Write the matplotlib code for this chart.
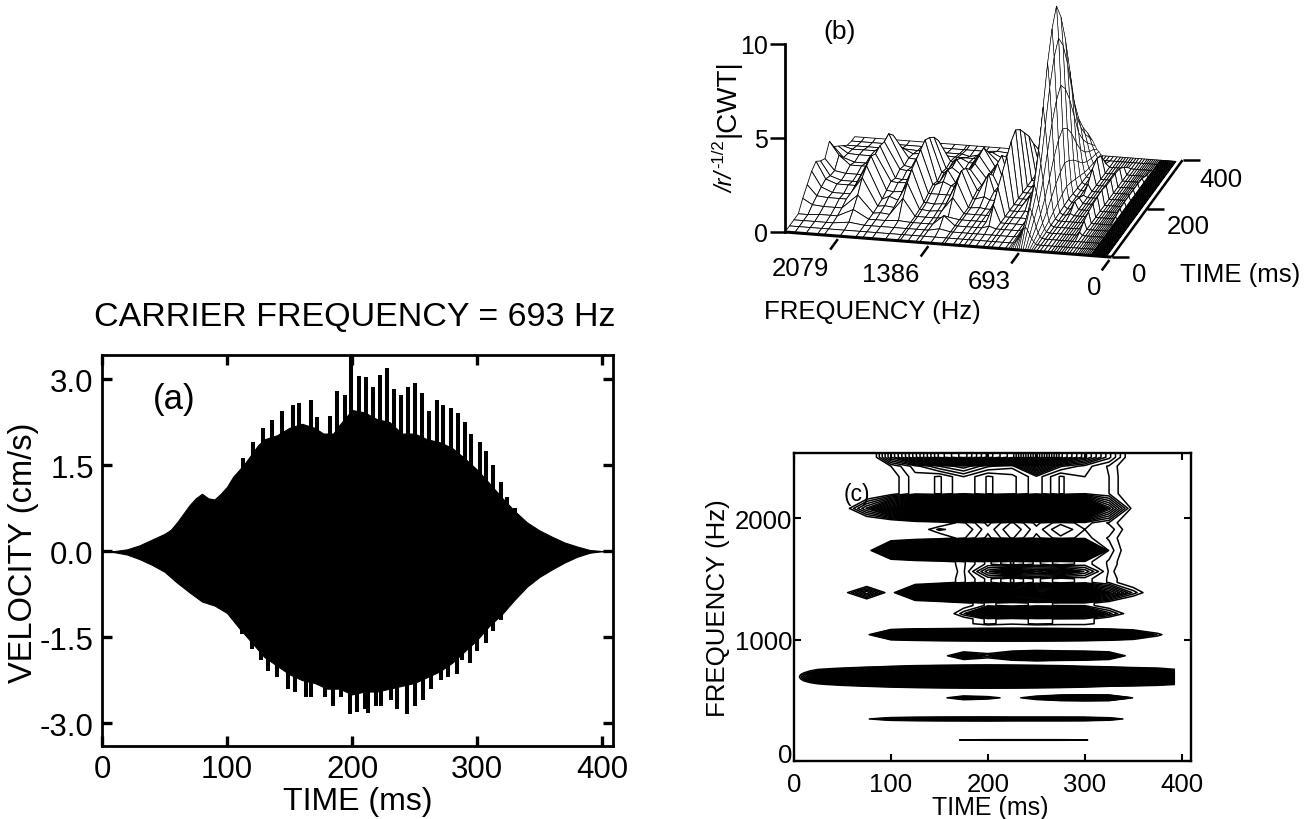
import matplotlib
matplotlib.use("Agg")
import numpy as np
import matplotlib.pyplot as plt
from matplotlib.collections import PolyCollection
from matplotlib.transforms import ScaledTranslation

plt.rcParams['font.family'] = ['Liberation Sans', 'DejaVu Sans']

# ---------- panel (a): velocity envelope
env_t = [0,10,20,30,40,50,55,60,65,70,75,80,85,90,95,100,105,110,115,120,125,130,140,150,160,170,177,185,190,200,210,220,230,240,250,260,270,280,290,300,310,320,330,340,350,360,370,380,390,400,408]
env_up = [0,0,0.03,0.1,0.2,0.3,0.37,0.5,0.65,0.8,0.92,1.0,0.92,0.9,1.0,1.12,1.3,1.42,1.55,1.7,1.85,1.95,2.02,2.15,2.22,2.15,2.05,2.05,2.2,2.46,2.42,2.3,2.25,2.05,2.05,1.95,1.9,1.8,1.62,1.42,1.18,0.93,0.7,0.5,0.36,0.25,0.15,0.08,0.02,0,0]
env_lo_t = [0,10,20,30,40,50,60,70,80,90,100,110,120,130,140,150,160,170,180,190,200,210,220,230,240,250,260,270,280,290,300,310,320,330,340,350,360,370,380,390,400,408]
env_lo = [0,-0.02,-0.06,-0.14,-0.24,-0.36,-0.55,-0.72,-0.88,-0.95,-1.08,-1.35,-1.6,-1.85,-2.0,-2.15,-2.25,-2.3,-2.4,-2.4,-2.5,-2.45,-2.45,-2.4,-2.35,-2.3,-2.2,-2.1,-1.95,-1.75,-1.55,-1.3,-1.1,-0.85,-0.62,-0.45,-0.32,-0.2,-0.1,-0.03,0,0]
spike_up_t = [112.5,121,129,135.7,143.7,152.5,157.9,167,172.3,182.4,188.3,194.1,199,205.3,211,216.5,222.4,228.3,233.6,239.5,245,250.4,256.3,261.8,267.7,273,279,285,290,295,302,307,313,319,324,330]
spike_up = [1.62,1.90,2.14,2.29,2.44,2.55,2.58,2.64,2.34,2.36,2.79,2.73,3.42,3.06,3.03,2.86,3.07,3.2,2.83,2.73,2.86,2.93,2.75,2.44,2.64,2.55,2.5,2.4,2.25,2.05,1.9,1.75,1.5,1.2,0.95,0.75]
spike_lo_t = [112,120,127,133,140,149,154,163,167,178,185,191,198,204,210,213,219,223,231,236,244,250,257,263,271,277,284,288,294,300,307,313,319]
spike_lo = [-1.45,-1.7,-1.9,-2.1,-2.2,-2.4,-2.45,-2.55,-2.55,-2.55,-2.7,-2.55,-2.85,-2.8,-2.75,-2.82,-2.7,-2.7,-2.6,-2.75,-2.85,-2.7,-2.6,-2.4,-2.25,-2.2,-2.15,-1.9,-1.95,-1.75,-1.6,-1.4,-1.2]
a_yticks = [-3.0,-1.5,0.0,1.5,3.0]
time_ticks = [0,100,200,300,400]

# ---------- panels (b) and (c): CWT magnitude
cwt_times = [0,25,50,75,100,125,150,175,200,225,250,275,300,325,350,375,393]
r173  = [0,0,0,0,0,0,0.1,0.22,0.25,0.25,0.25,0.25,0.22,0.05,0,0,0]
r346  = [0,0,0,0.17,0.45,0.6,0.7,0.75,0.8,0.7,0.7,0.7,0.65,0.4,0.05,0,0]
r520  = [0,0,0,0,0,0,0.1,0.42,0.3,0.1,0.38,0.85,1.1,0.9,0.18,0,0]
r600  = [0,0,0.03,0.05,0.08,0.1,0.12,0.15,0.18,0.15,0.12,0.1,0.08,0.05,0.03,0,0]
r615  = [0,0.05,0.1,0.2,0.3,0.45,0.6,0.75,0.85,0.75,0.6,0.45,0.3,0.2,0.15,0.1,0.05]
r630  = [0,0.15,0.3,0.5,0.8,1.2,1.6,1.9,2.1,1.9,1.6,1.2,0.8,0.55,0.4,0.3,0.2]
r645  = [0,0.3,0.6,0.95,1.5,2.2,3.0,3.6,3.9,3.6,3.0,2.2,1.5,1.05,0.75,0.55,0.3]
r660  = [0,0.5,1.0,1.5,2.4,3.6,4.8,5.7,6.2,5.7,4.8,3.6,2.4,1.7,1.2,0.8,0.5]
r677  = [0,0.75,1.35,2.1,3.3,5.0,6.7,8.0,8.7,8.0,6.7,5.0,3.3,2.35,1.65,1.15,0.75]
r693  = [0,0.9,1.6,2.5,4,6,8,9.5,10.4,9.5,8,6,4,2.8,2,1.4,0.9]
r710  = [0,0.75,1.3,2.0,3.2,4.8,6.5,7.8,8.4,7.8,6.5,4.8,3.2,2.25,1.6,1.1,0.75]
r725  = [0,0.5,0.9,1.4,2.2,3.4,4.6,5.5,6.0,5.5,4.6,3.4,2.2,1.6,1.1,0.8,0.5]
r742  = [0,0.3,0.5,0.85,1.35,2.0,2.8,3.4,3.7,3.4,2.8,2.0,1.35,0.95,0.65,0.5,0.3]
r760  = [0,0.15,0.25,0.45,0.7,1.1,1.5,1.8,2.0,1.8,1.5,1.1,0.7,0.5,0.35,0.25,0.15]
r775  = [0,0.05,0.1,0.15,0.25,0.4,0.55,0.7,0.8,0.7,0.55,0.4,0.25,0.2,0.1,0.1,0.05]
r790  = [0,0,0.03,0.05,0.08,0.1,0.12,0.15,0.18,0.15,0.12,0.1,0.08,0.05,0.03,0,0]
r866  = [0,0,0,0,0,0,0.05,0.5,0.3,0.7,1.1,0.8,0.7,0.5,0.05,0,0]
r1040 = [0,0,0,0.12,0.9,1.5,2,2.5,3,3.3,3,2.5,2,1.3,0.7,0.25,0.05]
r1213 = [0,0,0,0,0,0,0.05,0.3,1.2,0.8,1.1,1.2,0.8,0.35,0.1,0,0]
r1386 = [0,0,0.12,0.5,0.1,0.8,1.3,1.6,1.4,1,1,1.1,1.2,0.65,0.3,0.05,0]
r1560 = [0,0,0,0,0,0,0.05,0.25,0.6,0.9,0.7,0.8,0.55,0.25,0,0,0]
r1733 = [0,0,0,0.05,0.9,1.4,1.8,2,2.2,2.4,2.2,1.9,1.4,0.3,0.1,0,0]
r1906 = [0,0,0,0,0.05,0.1,0.28,0.2,0.36,0.2,0.36,0.2,0.32,0.3,0.12,0,0]
r2079 = [0,0,0.1,0.45,0.9,1.5,1.8,2,1.8,1.9,1.8,1.9,1.5,0.65,0.15,0,0]
r2253 = [0,0,0,0.05,0.15,0.3,0.25,0.38,0.25,0.3,0.42,0.25,0.32,0.26,0.1,0,0]
r2426 = [0,0,0,0,0.2,0.35,0.5,0.6,0.45,0.4,0.9,0.45,0.35,0.25,0.1,0,0]
r2500 = [0,0,0,0,0.5,0.9,1.3,1.5,1.2,1.0,1.6,1.0,0.7,0.4,0.1,0,0]
gap_mid = [0,0,0,0,0,0.05,0.1,0.25,0.4,0.25,0.4,0.28,0.35,0.25,0.1,0,0]
gap_low = [0,0,0,0,0,0,0,0.15,0.28,0.22,0.28,0.25,0.25,0.12,0,0,0]
flat = [0]*17
low_freqs = [40,45,50,55,60,65,70,75,80,85,90,95,100,105,110,115,120,125,130,135,140,145,150,155]

freq_rows = {f: flat for f in low_freqs}
freq_rows.update({
    160:flat,173:r173,186:flat,200:flat,215:flat,230:flat,245:flat,260:flat,280:flat,300:flat,
    325:flat,346:r346,367:flat,385:flat,405:flat,425:flat,445:flat,465:flat,
    490:flat,520:r520,550:flat,575:flat,600:r600,615:r615,630:r630,645:r645,660:r660,677:r677,693:r693,
    710:r710,725:r725,742:r742,760:r760,775:r775,790:r790,
    815:flat,866:r866,920:flat,950:flat,985:flat,1040:r1040,1095:flat,1130:gap_low,
    1170:gap_low,1213:r1213,1280:gap_low,1300:gap_low,1386:r1386,1470:gap_mid,1500:gap_mid,1560:r1560,1620:gap_mid,
    1640:gap_mid,1733:r1733,1835:gap_mid,1906:r1906,1960:gap_mid,2079:r2079,2200:r2253,2253:r2253,2340:r2253,
    2426:r2426,2500:r2500,2535:r2500,
})
cwt_freqs = np.array(list(freq_rows.keys()), dtype=float)
cwt_mag = np.array(list(freq_rows.values()), dtype=float)

W, H = 1310, 820
fig = plt.figure(figsize=(W/100, H/100), dpi=100, facecolor='white')

def rect(l, t, r, b):
    return [l/W, 1-b/H, (r-l)/W, (b-t)/H]

def ptext(x, y, s, **kw):
    kw.setdefault('ha', 'center'); kw.setdefault('va', 'center')
    fig.text(x/W, 1-y/H, s, color='black', **kw)

# ---------- (a)
ax = fig.add_axes(rect(102, 356, 613, 747))
ax.fill_between(env_t, 0, env_up, color='black', lw=0.8)
ax.fill_between(env_lo_t, env_lo, 0, color='black', lw=0.8)
ax.vlines(spike_up_t, 0, spike_up, color='black', lw=2.9)
ax.vlines(spike_lo_t, spike_lo, 0, color='black', lw=2.9)
ax.set_xlim(0, 408.8); ax.set_ylim(-3.40, 3.42)
ax.set_xticks(time_ticks); ax.set_xticklabels([str(v) for v in time_ticks])
ax.set_yticks(a_yticks); ax.set_yticklabels([f'{v:.1f}' for v in a_yticks])
ax.tick_params(direction='in', top=True, right=True, length=7.2, width=2.4, labelsize=22.5, pad=6)
for s in ax.spines.values(): s.set_linewidth(2.0)
ptext(355, 318, 'CARRIER FREQUENCY = 693 Hz', fontsize=24.5)
ptext(174, 400, '(a)', fontsize=25)
ptext(24, 553, 'VELOCITY (cm/s)', fontsize=23.5, rotation=90)
ptext(358, 802, 'TIME (ms)', fontsize=23)

# ---------- (c)
ac = fig.add_axes(rect(794, 454, 1190.5, 762))
levels = np.concatenate([np.arange(0.2, 3, 0.06), np.arange(3, 11, 0.15)])
ac.contour(cwt_times, cwt_freqs, cwt_mag, levels=levels, colors='black', linewidths=1.1)
ac.set_xlim(0, 409); ac.set_ylim(0, 2535)
ac.set_xticks(time_ticks); ac.set_xticklabels([str(v) for v in time_ticks])
ac.set_yticks([0,1000,2000]); ac.set_yticklabels(['0','1000','2000'])
ac.tick_params(direction='in', top=True, right=True, length=5, width=1.5, labelsize=18.5)
ac.tick_params(axis='y', pad=1); ac.tick_params(axis='x', pad=8)
zero_label = ac.get_yticklabels()[0]
zero_label.set_transform(zero_label.get_transform() + ScaledTranslation(0, 6/72, fig.dpi_scale_trans))
for s in ac.spines.values(): s.set_linewidth(1.7)
ptext(857, 495, '(c)', fontsize=16.5)
ptext(718, 608, 'FREQUENCY (Hz)', fontsize=18.6, rotation=90)
ptext(990, 808, 'TIME (ms)', fontsize=18)

# ---------- (b): oblique projection in (frequency, height) axes
HZ_PX = 693/90.5
ZPX = 18.8
def proj(f, t, z):
    f, t, z = np.asarray(f, float), np.asarray(t, float), np.asarray(z, float)
    return f - t*0.1775*HZ_PX, z + t*0.2425/ZPX - (2500-f)*(25/325)/HZ_PX/ZPX

ab = fig.add_axes(rect(785, 45, 1111.5, 233))
ab.set_xlim(2500, 0); ab.set_ylim(0, 10)
ab.patch.set_alpha(0)
for k in ('top','right','bottom'): ab.spines[k].set_visible(False)
ab.spines['left'].set_linewidth(2); ab.spines['left'].set_bounds(0, 10)
ab.set_xticks([])
ab.set_yticks([0,5,10]); ab.set_yticklabels(['0','5','10'])
ab.tick_params(axis='y', length=11, width=1.8, labelsize=18, pad=1)

quads, widths = [], []
nf, nt = cwt_mag.shape
keep = cwt_freqs <= 2500
F = cwt_freqs[keep]; M = cwt_mag[keep]
for j in range(nt-2, -1, -1):
    for i in range(len(F)-2, -1, -1):
        fs = [F[i], F[i+1], F[i+1], F[i]]
        ts = [cwt_times[j], cwt_times[j], cwt_times[j+1], cwt_times[j+1]]
        zs = [M[i,j], M[i+1,j], M[i+1,j+1], M[i,j+1]]
        x, y = proj(fs, ts, zs)
        quads.append(np.column_stack([x, y]))
        widths.append(0.42 if 600 <= F[i] < 790 else 0.6)
pc = PolyCollection(quads, facecolors='white', edgecolors='black', linewidths=widths, clip_on=False, zorder=3)
ab.add_collection(pc)

def line(xs, ys, lw=2):
    ab.plot(xs, ys, color='black', lw=lw, clip_on=False, solid_capstyle='butt', zorder=4)

x0, y0 = proj([2500, 0], [0, 0], [0, 0])
line(x0, y0, 2.2)
for f in [2079, 1386, 693, 0]:
    x, y = proj([f, f], [-12, -55], [0, 0])
    line(x, y, 1.8)
x, y = proj([0, 0], [0, 400], [0, 0])
line(x, y, 1.8)
for t in [0, 200, 400]:
    x, y = proj([0], [t], [0])
    line([x[0], x[0]-17*HZ_PX], [y[0], y[0]], 1.8)

for px_x, px_y, s in [(800,269,'2079'),(891,275,'1386'),(989,282,'693'),(1094,288,'0'),(1139,275,'0'),(1188,227,'200'),(1221,180,'400')]:
    ptext(px_x, px_y, s, fontsize=18.5)
ptext(840, 32, '(b)', fontsize=19)
ptext(1240, 275, 'TIME (ms)', fontsize=18.5)
ptext(872, 312, 'FREQUENCY (Hz)', fontsize=18.5)
ptext(727, 182, '/r/', fontsize=17, rotation=90, style='italic')
ptext(719, 154, '-1/2', fontsize=12, rotation=90)
ptext(727, 98, '|CWT|', fontsize=20, rotation=90)

fig.savefig('out.png', dpi=100)
